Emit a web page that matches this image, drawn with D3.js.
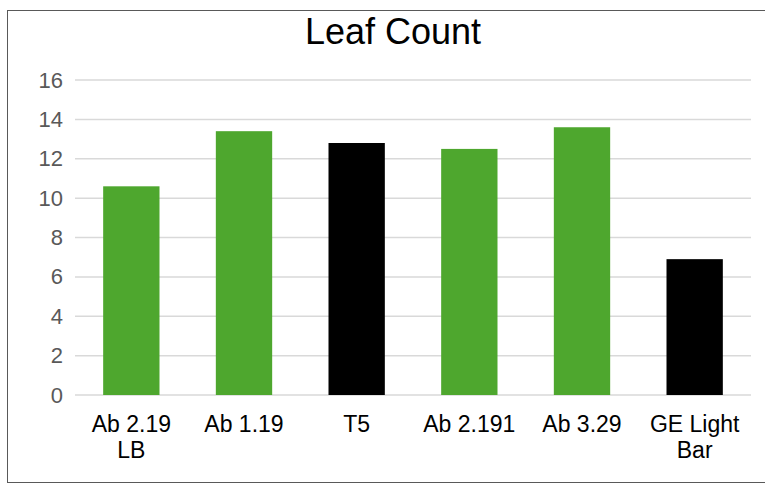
<!DOCTYPE html>
<html>
<head>
<meta charset="utf-8">
<script src="https://cdn.jsdelivr.net/npm/d3@7.9.0/dist/d3.min.js"></script>
<style>
  body { margin: 0; background: #fff; }
  svg { display: block; font-family: "Liberation Sans", Arial, sans-serif; }
</style>
</head>
<body>
<svg id="chart" width="765" height="484"></svg>
<script>
// chart data
const categories = ["Ab 2.19 LB", "Ab 1.19", "T5", "Ab 2.191", "Ab 3.29", "GE Light Bar"];
const labelLines = [["Ab 2.19", "LB"], ["Ab 1.19"], ["T5"], ["Ab 2.191"], ["Ab 3.29"], ["GE Light", "Bar"]];
const leafCount = [10.6, 13.4, 12.8, 12.5, 13.6, 6.9];
const barColors = ["#4ea72e", "#4ea72e", "#000000", "#4ea72e", "#4ea72e", "#000000"];
const yTicks = [0, 2, 4, 6, 8, 10, 12, 14, 16];

const svg = d3.select("#chart");

// outer frame
svg.append("rect")
  .attr("x", 7.5).attr("y", 10.5)
  .attr("width", 780).attr("height", 472)
  .attr("fill", "none")
  .attr("stroke", "#595959")
  .attr("stroke-width", 1);

const x = d3.scaleBand()
  .domain(categories)
  .range([75, 751])
  .paddingInner(0.5)
  .paddingOuter(0.25);

const y = d3.scaleLinear()
  .domain([0, 16])
  .range([395, 80]);

// gridlines
svg.append("g")
  .selectAll("line")
  .data(yTicks)
  .join("line")
  .attr("x1", 75).attr("x2", 751)
  .attr("y1", d => y(d)).attr("y2", d => y(d))
  .attr("stroke", "#d9d9d9")
  .attr("stroke-width", 1.5);

// y axis labels
const yAxis = svg.append("g")
  .attr("transform", "translate(63,0)")
  .call(d3.axisLeft(y).tickValues(yTicks).tickSize(0).tickPadding(0));
yAxis.select(".domain").remove();
yAxis.selectAll("text")
  .attr("font-size", 22)
  .attr("fill", "#595959")
  .attr("font-family", "Liberation Sans, Arial, sans-serif");

// bars
svg.append("g")
  .selectAll("rect")
  .data(categories)
  .join("rect")
  .attr("x", d => x(d))
  .attr("width", x.bandwidth())
  .attr("y", (d, i) => y(leafCount[i]))
  .attr("height", (d, i) => y(0) - y(leafCount[i]))
  .attr("fill", (d, i) => barColors[i]);

// category labels
const xl = svg.append("g");
categories.forEach((c, i) => {
  const t = xl.append("text")
    .attr("x", x(c) + x.bandwidth() / 2)
    .attr("y", 432)
    .attr("text-anchor", "middle")
    .attr("font-size", 23)
    .attr("fill", "#000");
  labelLines[i].forEach((ln, j) => {
    t.append("tspan")
      .attr("x", x(c) + x.bandwidth() / 2)
      .attr("dy", j === 0 ? 0 : 26)
      .text(ln);
  });
});

// title
svg.append("text")
  .attr("x", 393)
  .attr("y", 44)
  .attr("text-anchor", "middle")
  .attr("font-size", 36)
  .attr("fill", "#000")
  .text("Leaf Count");
</script>
</body>
</html>
